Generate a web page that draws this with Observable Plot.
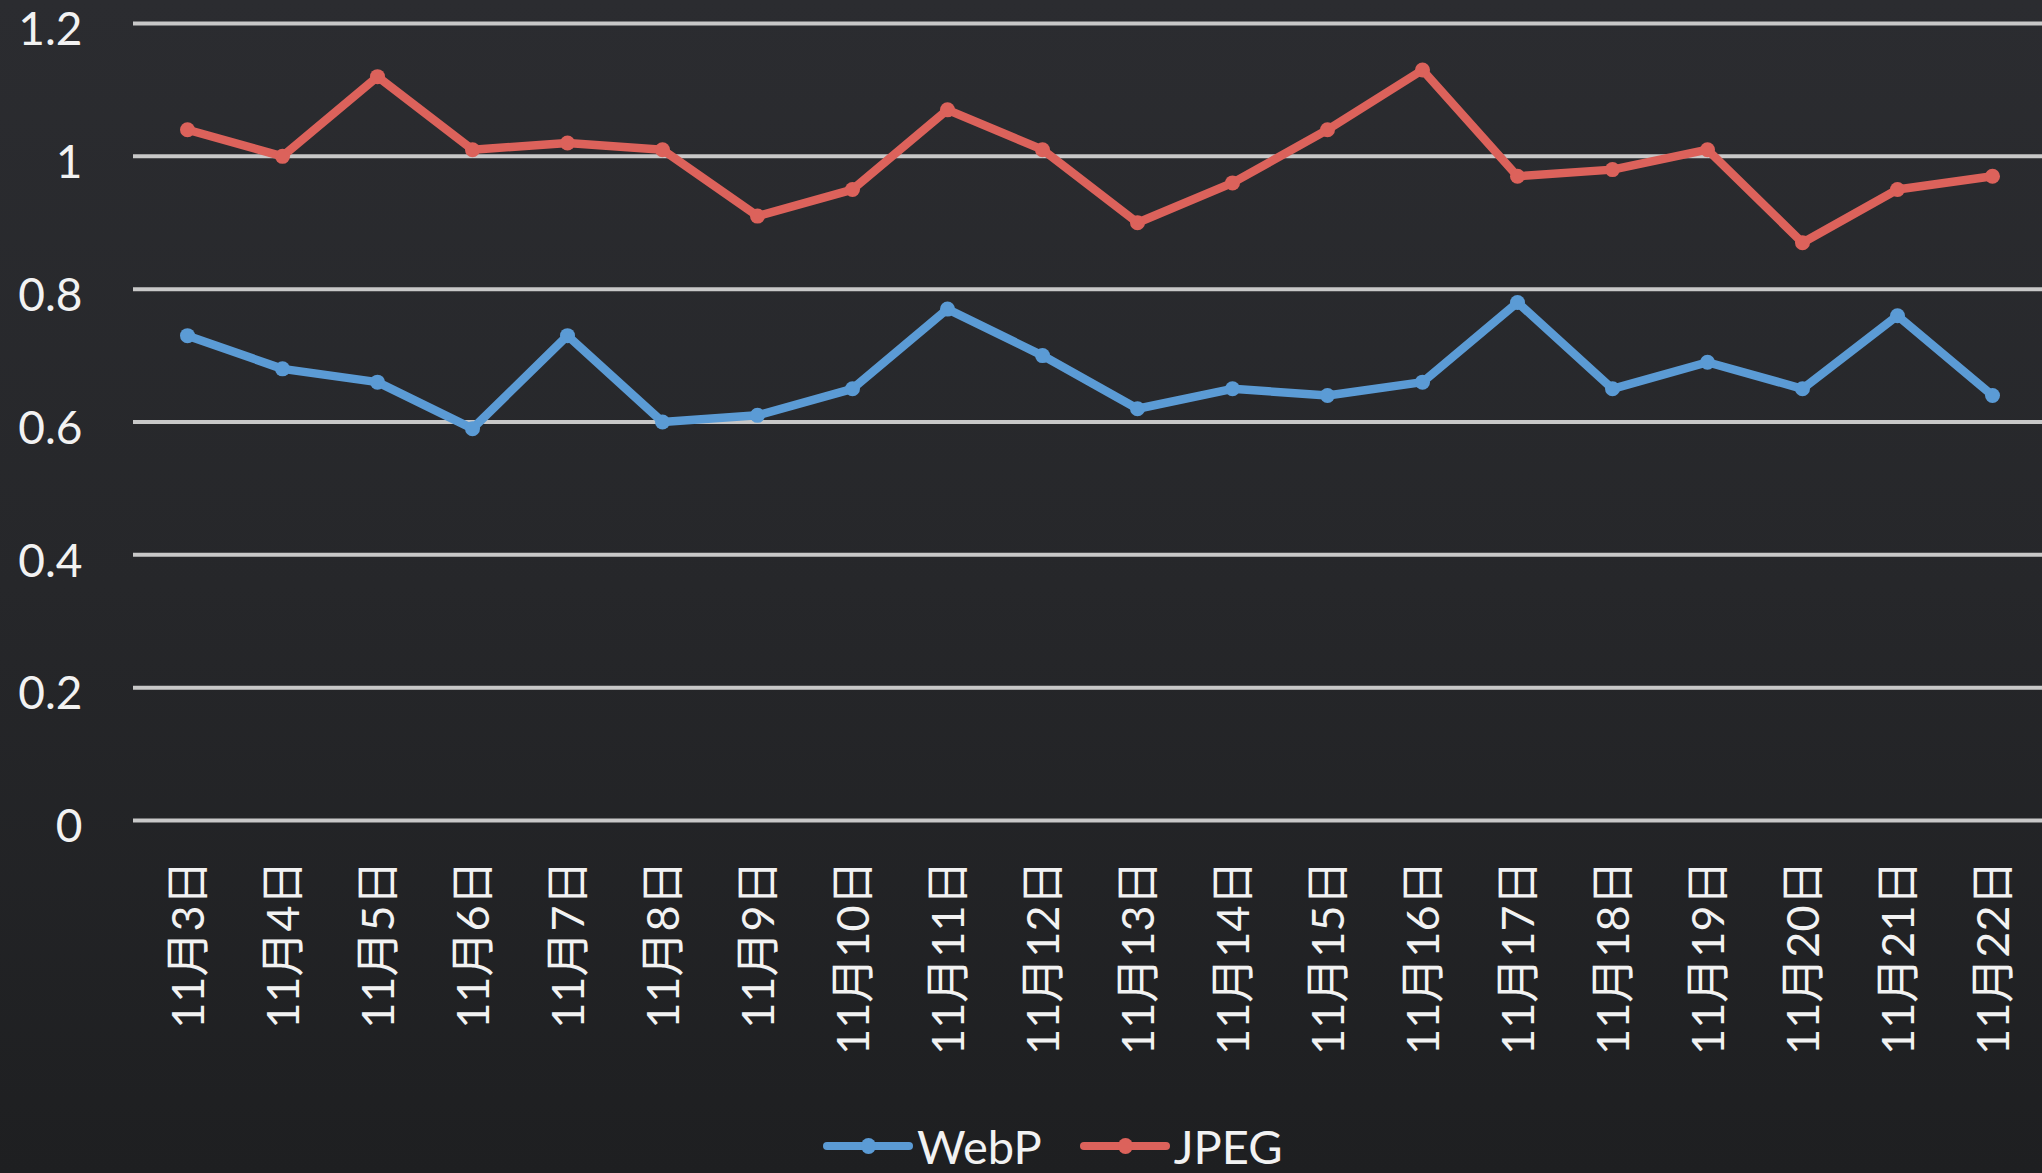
<!DOCTYPE html>
<html>
<head>
<meta charset="utf-8">
<script src="https://cdn.jsdelivr.net/npm/d3@7"></script>
<script src="https://cdn.jsdelivr.net/npm/@observablehq/plot@0.6"></script>
<style>
  html, body { margin: 0; padding: 0; }
  body {
    width: 2042px; height: 1173px; overflow: hidden; position: relative;
    background: linear-gradient(180deg, #2b2c30 0%, #26272a 50%, #1e1f21 100%);
    font-family: Lato, "Noto Sans CJK SC", sans-serif;
  }
  #chart svg { display: block; }
  #legend {
    position: absolute; left: 823px; top: 1118px; height: 56px;
    display: flex; align-items: center; gap: 0; color: #f2f2f2;
    font-size: 47px; font-family: Lato, "Noto Sans CJK SC", sans-serif;
  }
  .item { display: flex; align-items: center; margin-right: 38px; }
  .swatch { position: relative; width: 90px; height: 8px; border-radius: 4px; margin-right: 4px; }
  .swatch::after { content: ""; position: absolute; left: 38px; top: -4px; width: 15px; height: 16px; border-radius: 50%; background: inherit; }
</style>
</head>
<body>
<div id="chart"></div>
<div id="legend"></div>
<script>
const dates = ["11月3日","11月4日","11月5日","11月6日","11月7日","11月8日","11月9日","11月10日","11月11日","11月12日","11月13日","11月14日","11月15日","11月16日","11月17日","11月18日","11月19日","11月20日","11月21日","11月22日"];
const webp = [0.73,0.68,0.66,0.59,0.73,0.60,0.61,0.65,0.77,0.70,0.62,0.65,0.64,0.66,0.78,0.65,0.69,0.65,0.76,0.64];
const jpeg = [1.04,1.00,1.12,1.01,1.02,1.01,0.91,0.95,1.07,1.01,0.90,0.96,1.04,1.13,0.97,0.98,1.01,0.87,0.95,0.97];
const seriesNames = ["WebP", "JPEG"];
const seriesColors = ["#5b9bd5", "#dc625b"];
const yTicks = [0, 0.2, 0.4, 0.6, 0.8, 1, 1.2];

const rows = [];
dates.forEach((d, i) => {
  rows.push({date: d, series: "WebP", value: webp[i]});
  rows.push({date: d, series: "JPEG", value: jpeg[i]});
});

const chart = Plot.plot({
  width: 2042,
  height: 1105,
  marginLeft: 133,
  marginRight: 0,
  marginTop: 23,
  marginBottom: 285,
  style: {background: "transparent", color: "#f2f2f2", fontFamily: 'Lato, "Noto Sans CJK SC", sans-serif'},
  x: {type: "point", domain: dates, range: [133, 2046], padding: 0.5, axis: null},
  y: {domain: [0, 1.2], axis: null},
  color: {domain: seriesNames, range: seriesColors},
  marks: [
    Plot.ruleY(yTicks, {stroke: "#c8c8c8", strokeWidth: 4}),
    Plot.text(yTicks, {x: () => dates[0], y: d => d, text: d => String(d), dx: -105, dy: 7, textAnchor: "end", fontSize: 46, fill: "#f2f2f2"}),
    Plot.text(dates, {x: d => d, y: () => 0, text: d => d, rotate: -90, textAnchor: "end", dy: 40, dx: 2, fontSize: 45, fill: "#f2f2f2", lineAnchor: "middle"}),
    Plot.line(rows, {x: "date", y: "value", z: "series", stroke: "series", strokeWidth: 8.5, strokeLinejoin: "round", strokeLinecap: "round"}),
    Plot.dot(rows, {x: "date", y: "value", fill: "series", r: 7.5})
  ]
});
document.getElementById("chart").append(chart);

const legend = document.getElementById("legend");
seriesNames.forEach((name, i) => {
  const item = document.createElement("div");
  item.className = "item";
  const sw = document.createElement("span");
  sw.className = "swatch";
  sw.style.background = seriesColors[i];
  const label = document.createElement("span");
  label.textContent = name;
  item.append(sw, label);
  legend.append(item);
});
</script>
</body>
</html>
